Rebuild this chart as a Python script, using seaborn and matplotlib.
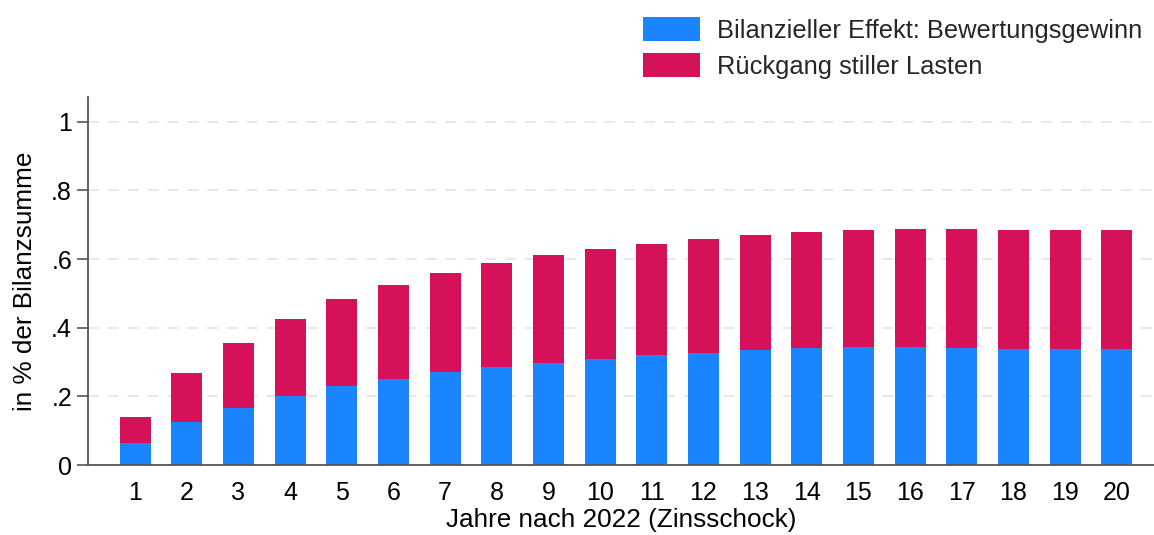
import pandas as pd
import matplotlib.pyplot as plt
import seaborn as sns
from matplotlib.patches import Patch

# Jahre nach 2022 und die beiden Komponenten (in % der Bilanzsumme)
jahre = list(range(1, 21))
bewertungsgewinn = [0.063, 0.125, 0.167, 0.201, 0.230, 0.251, 0.270, 0.285, 0.298, 0.309,
                    0.319, 0.327, 0.334, 0.340, 0.343, 0.343, 0.342, 0.339, 0.338, 0.337]
stille_lasten = [0.076, 0.144, 0.187, 0.225, 0.253, 0.274, 0.290, 0.304, 0.313, 0.319,
                 0.326, 0.331, 0.337, 0.340, 0.342, 0.343, 0.344, 0.346, 0.347, 0.348]
y_ticks = [0, 0.2, 0.4, 0.6, 0.8, 1.0]
y_ticklabels = ['0', '.2', '.4', '.6', '.8', '1']

blau = '#1A85FF'
rot = '#D41159'

df = pd.DataFrame({
    'Jahr': [str(j) for j in jahre],
    'Bewertungsgewinn': bewertungsgewinn,
    'Stille Lasten': stille_lasten,
})
df['Gesamt'] = df['Bewertungsgewinn'] + df['Stille Lasten']

sns.set_theme(style="white")
plt.rcParams['font.family'] = ['Liberation Sans', 'DejaVu Sans']

fig = plt.figure(figsize=(11.54, 5.35), dpi=100)
ax = fig.add_axes([0.0763, 0.1308, 0.9237, 0.688])

# gestapelt: erst Gesamt (rot), dann Bewertungsgewinn (blau) darueber
sns.barplot(data=df, x='Jahr', y='Gesamt', color=rot, width=0.6, saturation=1,
            edgecolor='none', ax=ax)
sns.barplot(data=df, x='Jahr', y='Bewertungsgewinn', color=blau, width=0.6, saturation=1,
            edgecolor='none', ax=ax)

ax.set_xlim(-0.91, 19.72)
ax.set_ylim(0, 1.072)
ax.set_yticks(y_ticks)
ax.set_yticklabels(y_ticklabels)
ax.yaxis.grid(True, linestyle=(0, (6, 5)), color='#e6e6e6', linewidth=1.3)
ax.set_axisbelow(True)

for s in ['top', 'right']:
    ax.spines[s].set_visible(False)
ax.spines['left'].set_color('#555555')
ax.spines['bottom'].set_color('#555555')
ax.spines['left'].set_linewidth(1.3)
ax.spines['bottom'].set_linewidth(1.3)

ax.tick_params(axis='y', left=True, length=8, width=1.2, color='#555555',
               labelsize=18, labelcolor='black', pad=3.5)
ax.tick_params(axis='x', bottom=False, labelsize=18, labelcolor='black', pad=5.5)

ax.set_xlabel('Jahre nach 2022 (Zinsschock)', fontsize=18.8, color='black', labelpad=2)
ax.set_ylabel('in % der Bilanzsumme', fontsize=18.8, color='black', labelpad=10)

handles = [Patch(facecolor=blau, edgecolor='none'), Patch(facecolor=rot, edgecolor='none')]
fig.legend(handles, ['Bilanzieller Effekt: Bewertungsgewinn', 'Rückgang stiller Lasten'],
           loc='upper right', bbox_to_anchor=(0.9896, 0.968), frameon=False,
           fontsize=18.4, handlelength=2.23, handleheight=1.05, labelspacing=0.41,
           handletextpad=0.66, borderpad=0, borderaxespad=0)

fig.savefig('out.png', dpi=100)
